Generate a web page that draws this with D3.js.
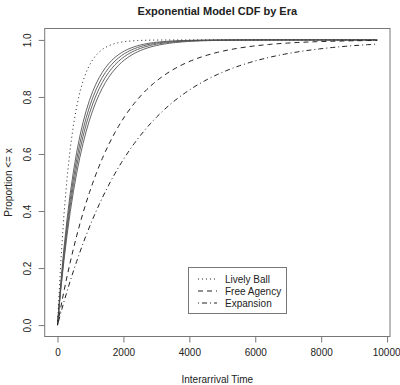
<!DOCTYPE html>
<html lang="en">
<head>
<meta charset="utf-8">
<title>Exponential Model CDF by Era</title>
<script src="https://cdn.jsdelivr.net/npm/d3@7"></script>
<style>
  body { margin: 0; background: #fff; }
  text { font-family: "Liberation Sans", Arial, sans-serif; fill: #222; }
</style>
</head>
<body>
<script>
// era means (mean interarrival time)
var eras = ["Era 1", "Era 2", "Era 3", "Era 4", "Lively Ball", "Free Agency", "Expansion"];
var means = [625, 670, 715, 765, 400, 1550, 2300];
var dashes = ["", "", "", "", "1,3", "5,4", "1,3,5,3"];
var xMax = 9700;
var xTicks = [0, 2000, 4000, 6000, 8000, 10000];
var yTicks = [0, 0.2, 0.4, 0.6, 0.8, 1.0];
var legendNames = ["Lively Ball", "Free Agency", "Expansion"];
var legendDash = ["1,3", "5,4", "1,3,5,3"];

var w = 400, h = 385;
var L = 44.7, R = 390, T = 28.5, B = 336.5;

// R style 4% padding
var x = d3.scaleLinear().domain([-0.04 * xMax, 1.04 * xMax]).range([L, R]);
var y = d3.scaleLinear().domain([-0.04, 1.04]).range([B, T]);

var svg = d3.select("body").append("svg")
  .attr("width", w)
  .attr("height", h);

// exponential CDF, like curve(pexp(x, 1/mean))
var pts = d3.range(0, 101).map(function(i) { return i / 100 * xMax; });
var line = d3.line()
  .x(function(d) { return x(d[0]); })
  .y(function(d) { return y(d[1]); });

svg.selectAll("path.cdf")
  .data(means)
  .enter()
  .append("path")
  .attr("class", "cdf")
  .attr("d", function(m) {
    return line(pts.map(function(t) { return [t, 1 - Math.exp(-t / m)]; }));
  })
  .attr("fill", "none")
  .attr("stroke", function(d, i) { return dashes[i] ? "#222" : "#555"; })
  .attr("stroke-width", function(d, i) { return dashes[i] ? 1 : 0.9; })
  .attr("stroke-dasharray", function(d, i) { return dashes[i] || null; });

// box
svg.append("rect")
  .attr("x", L).attr("y", T)
  .attr("width", R - L).attr("height", B - T)
  .attr("fill", "none")
  .attr("stroke", "#777");

// x axis
var xa = svg.append("g")
  .attr("transform", "translate(0," + B + ")")
  .call(d3.axisBottom(x).tickValues(xTicks).tickSize(6).tickPadding(6).tickFormat(d3.format("d")));
xa.select(".domain").remove();
xa.selectAll("line").attr("stroke", "#777");
xa.selectAll("text").attr("font-size", 10).attr("fill", "#222");
xa.selectAll("text").filter(function(d) { return d === 10000; }).attr("dx", -1);

// y axis, labels parallel to the axis
var ya = svg.append("g")
  .attr("transform", "translate(" + L + ",0)")
  .call(d3.axisLeft(y).tickValues(yTicks).tickSize(6).tickFormat(d3.format(".1f")));
ya.select(".domain").remove();
ya.selectAll("line").attr("stroke", "#777");
ya.selectAll("text")
  .attr("font-size", 10)
  .attr("fill", "#222")
  .attr("x", 0).attr("dy", 0)
  .attr("text-anchor", "middle")
  .attr("transform", "translate(-14,0) rotate(-90)");

// titles
svg.append("text")
  .attr("x", (L + R) / 2).attr("y", 15)
  .attr("text-anchor", "middle")
  .attr("font-size", 11).attr("font-weight", "bold")
  .text("Exponential Model CDF by Era");

svg.append("text")
  .attr("x", (L + R) / 2).attr("y", 383)
  .attr("text-anchor", "middle")
  .attr("font-size", 10)
  .text("Interarrival Time");

svg.append("text")
  .attr("transform", "translate(12," + ((T + B) / 2) + ") rotate(-90)")
  .attr("text-anchor", "middle")
  .attr("font-size", 10)
  .text("Proportion <= x");

// legend
var lg = svg.append("g").attr("transform", "translate(188,267)");
lg.append("rect")
  .attr("x", 0.5).attr("y", 0.5)
  .attr("width", 98).attr("height", 46)
  .attr("fill", "#fff")
  .attr("stroke", "#777");
legendNames.forEach(function(n, i) {
  var yy = 12 + i * 12;
  lg.append("line")
    .attr("x1", 10).attr("x2", 29)
    .attr("y1", yy).attr("y2", yy)
    .attr("stroke", "#222")
    .attr("stroke-dasharray", legendDash[i]);
  lg.append("text")
    .attr("x", 37).attr("y", yy + 3.5)
    .attr("font-size", 10)
    .text(n);
});
</script>
</body>
</html>
